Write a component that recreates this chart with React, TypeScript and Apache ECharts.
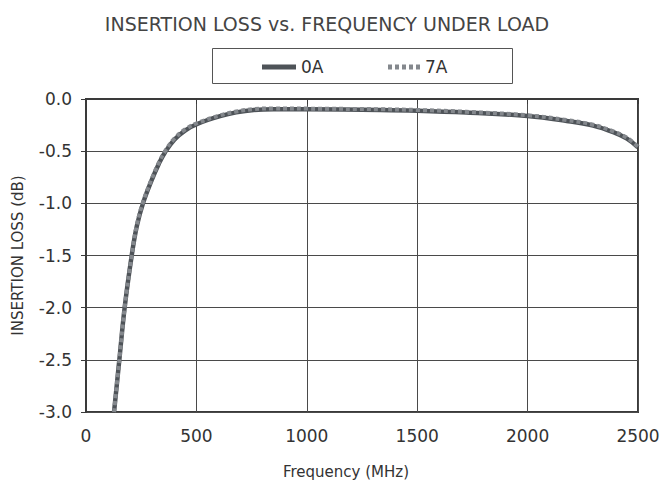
import React, { useEffect, useRef } from "react";
import * as echarts from "echarts";

const freq0A: number[] = [127, 151, 175, 207, 230, 258, 297, 330, 358, 400, 450, 509, 607, 680, 760, 850, 1000, 1332, 1500, 1724, 2000, 2177, 2297, 2388, 2450, 2500];
const loss0A: number[] = [-3.0, -2.5, -2.0, -1.5, -1.22, -1.0, -0.78, -0.62, -0.51, -0.39, -0.3, -0.235, -0.165, -0.128, -0.105, -0.098, -0.099, -0.105, -0.112, -0.13, -0.163, -0.21, -0.255, -0.318, -0.38, -0.463];
const freq7A: number[] = [127, 151, 175, 207, 230, 258, 297, 330, 358, 400, 450, 509, 607, 680, 760, 850, 1000, 1332, 1500, 1724, 2000, 2177, 2297, 2388, 2450, 2500];
const loss7A: number[] = [-3.0, -2.5, -2.0, -1.5, -1.21, -0.99, -0.77, -0.61, -0.5, -0.38, -0.29, -0.226, -0.157, -0.12, -0.097, -0.09, -0.092, -0.098, -0.105, -0.123, -0.156, -0.202, -0.247, -0.31, -0.372, -0.458];
const seriesNames: string[] = ["0A", "7A"];
const xTickValues: number[] = [0, 500, 1000, 1500, 2000, 2500];
const titleText = "INSERTION LOSS vs. FREQUENCY UNDER LOAD";
const xName = "Frequency (MHz)";
const yName = "INSERTION LOSS (dB)";

const FONT = "DejaVu Sans";
const SOLID = "#4e5358";
const DOTTED = "#84888d";

export default function App() {
  const ref = useRef<HTMLDivElement>(null);
  useEffect(() => {
    if (!ref.current) return;
    const chart = echarts.init(ref.current, undefined, { renderer: "svg" });
    chart.setOption({
      animation: false,
      backgroundColor: "#ffffff",
      textStyle: { fontFamily: FONT },
      title: {
        text: titleText,
        left: 322,
        textAlign: "center",
        top: 9,
        textStyle: { fontFamily: FONT, fontSize: 19, fontWeight: "normal", color: "#444444" },
      },
      graphic: [
        {
          type: "rect",
          shape: { x: 212.5, y: 48.5, width: 300, height: 35 },
          style: { fill: "#ffffff", stroke: "#555555", lineWidth: 1 },
          z: 0,
        },
        {
          type: "line",
          shape: { x1: 262, y1: 67, x2: 296, y2: 67 },
          style: { stroke: SOLID, lineWidth: 5 },
          z: 2,
        },
        {
          type: "text",
          x: 301,
          y: 67,
          style: { text: seriesNames[0], fontFamily: FONT, fontSize: 17, fill: "#333333", verticalAlign: "middle", align: "left" },
          z: 2,
        },
        {
          type: "line",
          shape: { x1: 388, y1: 67, x2: 421, y2: 67 },
          style: { stroke: DOTTED, lineWidth: 5, lineDash: [4, 3] },
          z: 2,
        },
        {
          type: "text",
          x: 425,
          y: 67,
          style: { text: seriesNames[1], fontFamily: FONT, fontSize: 17, fill: "#333333", verticalAlign: "middle", align: "left" },
          z: 2,
        },
        {
          type: "text",
          x: 346,
          y: 472,
          style: { text: xName, fontFamily: FONT, fontSize: 15, fill: "#333333", verticalAlign: "middle", align: "center" },
          z: 2,
        },
      ],
      grid: {
        left: 86,
        right: 29,
        top: 99,
        bottom: 77,
        show: true,
        borderColor: "#3a3a3a",
        borderWidth: 2,
      },
      xAxis: {
        type: "value",
        min: 0,
        max: 2500,
        interval: 500,
        axisLine: { show: true, lineStyle: { color: "#3a3a3a", width: 2 } },
        axisTick: { show: true, inside: false, length: 5, lineStyle: { color: "#3a3a3a", width: 1 } },
        axisLabel: {
          margin: 15,
          fontFamily: FONT,
          fontSize: 17,
          color: "#333333",
          formatter: (v: number) => (xTickValues.indexOf(v) >= 0 ? String(v) : ""),
        },
        splitLine: { show: true, lineStyle: { color: "#4a4a4a", width: 1 } },
      },
      yAxis: {
        type: "value",
        min: -3,
        max: 0,
        interval: 0.5,
        name: yName,
        nameLocation: "middle",
        nameGap: 61,
        nameTextStyle: { fontFamily: FONT, fontSize: 15, color: "#333333" },
        axisLine: { show: true, onZero: false, lineStyle: { color: "#3a3a3a", width: 2 } },
        axisTick: { show: true, inside: false, length: 5, lineStyle: { color: "#3a3a3a", width: 1 } },
        axisLabel: {
          margin: 14,
          fontFamily: FONT,
          fontSize: 17,
          color: "#333333",
          formatter: (v: number) => v.toFixed(1),
        },
        splitLine: { show: true, lineStyle: { color: "#4a4a4a", width: 1 } },
      },
      series: [
        {
          name: seriesNames[0],
          type: "line",
          data: freq0A.map((f, i) => [f, loss0A[i]]),
          smooth: 0.4,
          symbol: "none",
          lineStyle: { color: SOLID, width: 4.5, type: "solid" },
          itemStyle: { color: SOLID },
          z: 3,
        },
        {
          name: seriesNames[1],
          type: "line",
          data: freq7A.map((f, i) => [f, loss7A[i]]),
          smooth: 0.4,
          symbol: "none",
          lineStyle: { color: DOTTED, width: 4, type: [4, 3], cap: "butt" },
          itemStyle: { color: DOTTED },
          z: 4,
        },
      ],
    });
    return () => chart.dispose();
  }, []);
  return (
    <div
      ref={ref}
      style={{ position: "fixed", left: 0, top: 0, width: 667, height: 489 }}
    />
  );
}
